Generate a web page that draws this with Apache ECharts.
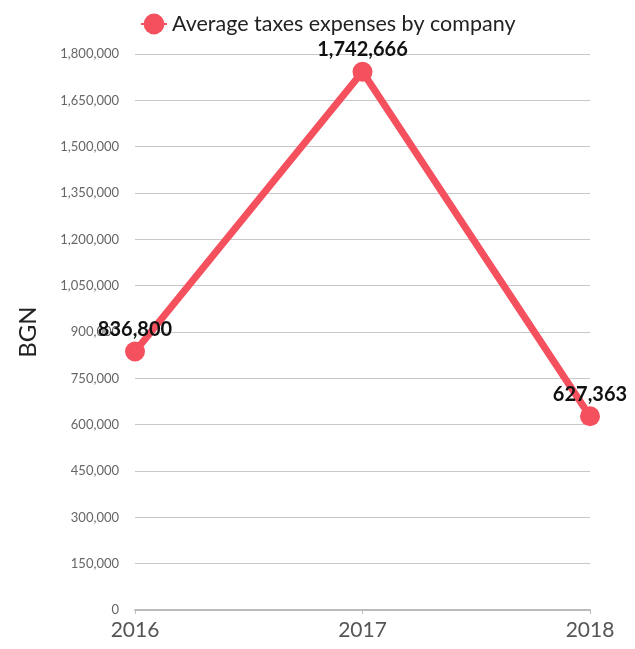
<!DOCTYPE html>
<html><head><meta charset="utf-8">
<script src="https://cdn.jsdelivr.net/npm/echarts@6/dist/echarts.min.js"></script>
<style>html,body{margin:0;padding:0;background:#fff}#c{width:635px;height:649px}</style>
</head><body><div id="c"></div>
<script>
const years = ['2016', '2017', '2018'];
const taxes = [836800, 1742666, 627363];
const seriesName = 'Average taxes expenses by company';
const color = '#f5505e';
const font = 'Lato';
const chart = echarts.init(document.getElementById('c'));
chart.setOption({
  animation: false,
  textStyle: { fontFamily: font },
  legend: {
    data: [seriesName], top: 8, left: 135,
    itemWidth: 26, itemHeight: 26, itemGap: 4,
    textStyle: { fontSize: 21.5, color: '#222', fontFamily: font }
  },
  grid: { left: 135, right: 45, top: 54, bottom: 39 },
  xAxis: {
    type: 'category', data: years, boundaryGap: false,
    axisLine: { show: true, lineStyle: { color: '#bbb', width: 2 } },
    axisTick: { show: true, alignWithLabel: true, lineStyle: { color: '#bbb' }, length: 4 },
    axisLabel: { fontSize: 21, color: '#555', margin: 10, fontFamily: font }
  },
  yAxis: {
    type: 'value', min: 0, max: 1800000, interval: 150000,
    name: 'BGN', nameLocation: 'middle', nameGap: 95, nameRotate: 90,
    nameTextStyle: { fontSize: 24, color: '#222', fontFamily: font },
    axisLine: { show: false }, axisTick: { show: false },
    axisLabel: { fontSize: 13, color: '#666', margin: 16, fontFamily: font,
      formatter: v => v.toLocaleString('en-US') },
    splitLine: { lineStyle: { color: '#c8c8c8', width: 1 } }
  },
  series: [{
    name: seriesName, type: 'line', data: taxes,
    symbol: 'circle', symbolSize: 20,
    lineStyle: { color: color, width: 7 },
    itemStyle: { color: color },
    label: { show: true, position: 'top', distance: 2, fontSize: 20, fontWeight: 'bold', color: '#111', fontFamily: font,
      formatter: p => p.value.toLocaleString('en-US') }
  }]
});
</script></body></html>
